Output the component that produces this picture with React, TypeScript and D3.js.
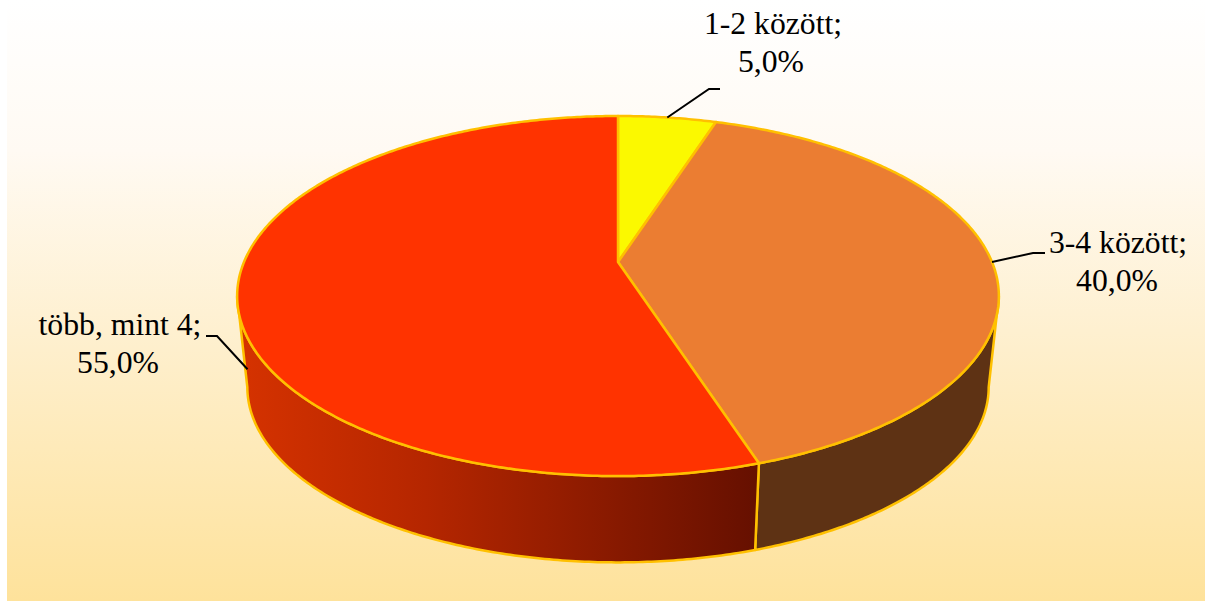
import React from "react";
import * as d3 from "d3";

const categories = ["1-2 között", "3-4 között", "több, mint 4"];
const shares = [5, 40, 55];
const valueLabels = ["5,0%", "40,0%", "55,0%"];
const topColors = ["#FBF900", "#EB7D32", "#FF3300"];
const sideColors = ["#8C8A00", "#5E3214", "url(#redSide)"];

const width = 1205;
const height = 601;

// Excel style 3D pie: each rim is a unit circle put through a perspective
const tilt = 0.189;
const topRim = { cx: 618, cy: 262, a: 374, b: 173.6 };
const bottomRim = { cx: 618, cy: 354, a: 364, b: 169 };

type Rim = typeof topRim;

function project(rim: Rim, angle: number): [number, number] {
  const u = Math.sin(angle);
  const v = Math.cos(angle);
  const w = 1 + tilt * v;
  return [rim.cx + (rim.a * u) / w, rim.cy - (rim.b * v) / w];
}

function rimPoints(rim: Rim, start: number, end: number) {
  const steps = Math.max(2, Math.ceil(Math.abs(end - start) / 0.01));
  return d3.range(steps + 1).map((i) => project(rim, start + ((end - start) * i) / steps));
}

const line = d3.line();
const arcs = d3.pie<number>().sort(null)(shares);

// the wall runs between the two widest points of the rim, the silhouette is straight there
const frontStart = Math.acos(-tilt);
const frontEnd = 2 * Math.PI - frontStart;

// label text and leader lines, one per slice
const labelLayout = [
  { x: 773, y: 34, x2: 771, dy: 37.5, elbow: [709, 89], end: [720, 89], drop: 0, top: true },
  { x: 1118, y: 253, x2: 1117, dy: 37.5, elbow: [1033, 253], end: [1045, 253], drop: 0, top: true },
  { x: 120, y: 335, x2: 118, dy: 37.5, elbow: [217, 336], end: [206, 336], drop: -12, top: false },
];

export default function App() {
  return (
    <svg
      width={width}
      height={height}
      style={{ position: "absolute", left: 0, top: 0, display: "block" }}
      fontFamily="'Liberation Serif', serif"
    >
      <defs>
        <linearGradient id="page" x1="0" y1="0" x2="0" y2="1">
          <stop offset="0%" stopColor="#FFFFFF" />
          <stop offset="25%" stopColor="#FFFAF3" />
          <stop offset="55%" stopColor="#FEF0D0" />
          <stop offset="100%" stopColor="#FEE29B" />
        </linearGradient>
        <linearGradient id="redSide" gradientUnits="userSpaceOnUse" x1="247" y1="0" x2="755" y2="0">
          <stop offset="0%" stopColor="#D43200" />
          <stop offset="35%" stopColor="#B52600" />
          <stop offset="100%" stopColor="#661000" />
        </linearGradient>
      </defs>

      <rect x={7} y={0} width={width - 7} height={height} fill="url(#page)" />

      {/* side wall */}
      {arcs.map((d, i) => {
        const start = Math.max(d.startAngle, frontStart);
        const end = Math.min(d.endAngle, frontEnd);
        if (end <= start) return null;
        const pts = [...rimPoints(topRim, start, end), ...rimPoints(bottomRim, end, start)];
        return (
          <path
            key={categories[i]}
            d={line(pts) + "Z"}
            fill={sideColors[i]}
            stroke="#FFC000"
            strokeWidth={2.5}
            strokeLinejoin="round"
          />
        );
      })}

      {/* top face */}
      {arcs.map((d, i) => {
        const pts: [number, number][] = [
          [topRim.cx, topRim.cy],
          ...rimPoints(topRim, d.startAngle, d.endAngle),
        ];
        return (
          <path
            key={categories[i]}
            d={line(pts) + "Z"}
            fill={topColors[i]}
            stroke="#FFC000"
            strokeWidth={2.5}
            strokeLinejoin="round"
          />
        );
      })}

      {/* leaders and labels */}
      {arcs.map((d, i) => {
        const layout = labelLayout[i];
        const mid = (d.startAngle + d.endAngle) / 2;
        const anchor = project(layout.top ? topRim : bottomRim, mid);
        const pts = [
          [anchor[0], anchor[1] + layout.drop],
          layout.elbow,
          layout.end,
        ] as [number, number][];
        return (
          <g key={categories[i]}>
            <path d={line(pts) ?? ""} fill="none" stroke="#000" strokeWidth={2} />
            <text x={layout.x} y={layout.y} textAnchor="middle" fontSize={31.7} fill="#000">
              {categories[i]};
            </text>
            <text x={layout.x2} y={layout.y + layout.dy} textAnchor="middle" fontSize={31.7} fill="#000">
              {valueLabels[i]}
            </text>
          </g>
        );
      })}
    </svg>
  );
}
